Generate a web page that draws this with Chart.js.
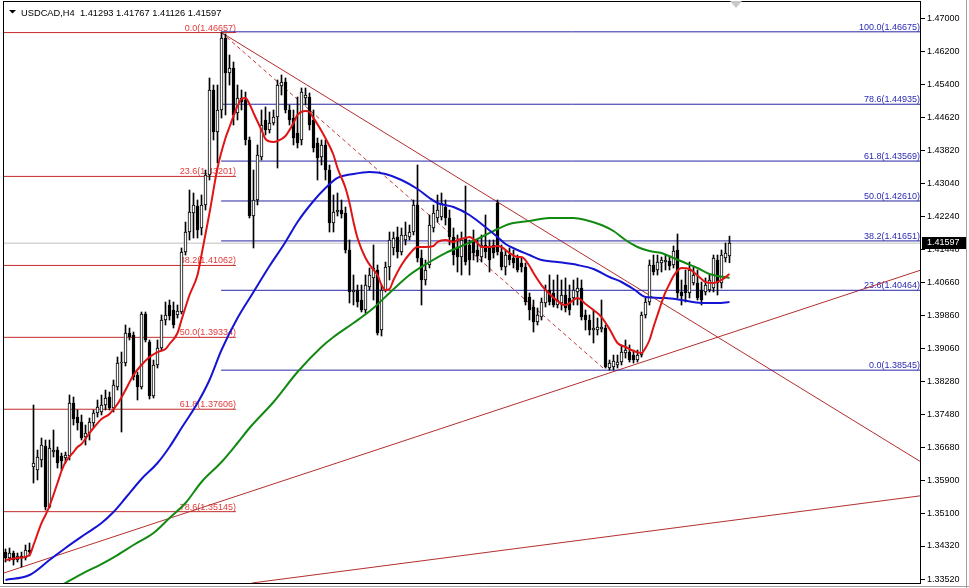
<!DOCTYPE html>
<html>
<head>
<meta charset="utf-8">
<script src="https://cdn.jsdelivr.net/npm/chart.js@4.4.1/dist/chart.umd.min.js"></script>
<style>
html, body { margin: 0; padding: 0; background: #fff; }
canvas { display: block; }
</style>
</head>
<body>
<canvas id="chart" width="969" height="588"></canvas>
<script>
const symbolName = 'USDCAD,H4';
const lastBarText = ['1.41293', '1.41767', '1.41126', '1.41597'];
const bidPrice = 1.41597;

const priceTicks = [1.47, 1.462, 1.454, 1.4462, 1.4382, 1.4304, 1.4224, 1.4144, 1.4066, 1.3986,
  1.3906, 1.3828, 1.3748, 1.3668, 1.359, 1.351, 1.3432, 1.3352];

// H4 bars, index 0 = oldest visible bar
const opens = [
  1.34175, 1.34031, 1.34151, 1.33983, 1.34079, 1.34031, 1.34223, 1.36218, 1.36146, 1.36386,
  1.36723, 1.35257, 1.36578, 1.36626, 1.36482, 1.36434, 1.36482, 1.37756, 1.37419, 1.37299,
  1.36939, 1.37035, 1.37275, 1.37516, 1.37540, 1.37708, 1.37900, 1.37636, 1.38140, 1.38717,
  1.38717, 1.39438, 1.39390, 1.38429, 1.38140, 1.39895, 1.39222, 1.37924, 1.38669, 1.39078,
  1.39750, 1.40111, 1.39991, 1.39871, 1.39943, 1.41384, 1.41865, 1.42322, 1.42490, 1.41961,
  1.42514, 1.43235, 1.45277, 1.44268, 1.44797, 1.46527, 1.45686, 1.45806, 1.44725, 1.45085,
  1.45037, 1.44076, 1.42250, 1.42634, 1.43667, 1.44556, 1.44316, 1.44484, 1.44628, 1.45373,
  1.45470, 1.44797, 1.44604, 1.44244, 1.44076, 1.45085, 1.45109, 1.44556, 1.44004, 1.43667,
  1.43956, 1.43355, 1.42081, 1.42346, 1.42394, 1.42322, 1.41432, 1.40423, 1.40471, 1.40231,
  1.39991, 1.40543, 1.40760, 1.40952, 1.39510, 1.40471, 1.41024, 1.41481, 1.41745, 1.41384,
  1.41673, 1.41745, 1.41865, 1.42514, 1.41240, 1.40712, 1.41072, 1.41961, 1.42201, 1.42225,
  1.42466, 1.42201, 1.41745, 1.41481, 1.41264, 1.41721, 1.41553, 1.41673, 1.41432, 1.41264,
  1.41553, 1.41505, 1.41553, 1.42562, 1.41384, 1.41024, 1.41312, 1.41240, 1.41240, 1.41120,
  1.41024, 1.40303, 1.40063, 1.39702, 1.39822, 1.40159, 1.40471, 1.40399, 1.40111, 1.40159,
  1.40351, 1.40279, 1.40279, 1.40423, 1.40519, 1.39871, 1.39750, 1.39510, 1.39510, 1.39534,
  1.39558, 1.38597, 1.38621, 1.38669, 1.38741, 1.38957, 1.38981, 1.38909, 1.38789, 1.38909,
  1.39871, 1.40183, 1.41072, 1.40952, 1.41120, 1.41144, 1.41168, 1.41072, 1.41432, 1.40423,
  1.40591, 1.40399, 1.40640, 1.40640, 1.40471, 1.40423, 1.40471, 1.40519, 1.41192, 1.40640,
  1.41240, 1.41293
];
const highs = [
  1.34248, 1.34272, 1.34199, 1.34151, 1.34175, 1.34344, 1.34392, 1.37708, 1.36626, 1.36915,
  1.36867, 1.36867, 1.37107, 1.36699, 1.36554, 1.36578, 1.37948, 1.37900, 1.37588, 1.37468,
  1.37227, 1.37395, 1.37588, 1.37828, 1.37948, 1.38068, 1.38020, 1.38309, 1.38861, 1.38981,
  1.39630, 1.39558, 1.39462, 1.38501, 1.39943, 1.39943, 1.39270, 1.38789, 1.39270, 1.39871,
  1.40183, 1.40231, 1.40183, 1.40111, 1.41481, 1.42105, 1.42874, 1.42802, 1.42634, 1.42754,
  1.43355, 1.45566, 1.45397, 1.45397, 1.46657, 1.46623, 1.46118, 1.45950, 1.45397, 1.45277,
  1.45229, 1.44148, 1.43355, 1.43956, 1.44797, 1.44869, 1.44749, 1.44797, 1.45518, 1.45638,
  1.45566, 1.44917, 1.44797, 1.45109, 1.45325, 1.45325, 1.45205, 1.44797, 1.44124, 1.44076,
  1.44076, 1.43475, 1.42754, 1.42802, 1.42634, 1.42466, 1.41673, 1.40832, 1.40591, 1.40591,
  1.40832, 1.41000, 1.41553, 1.41072, 1.40591, 1.41144, 1.41865, 1.41865, 1.41985, 1.41961,
  1.42105, 1.42033, 1.42634, 1.43475, 1.41432, 1.41192, 1.42274, 1.42514, 1.42754, 1.42802,
  1.42634, 1.42394, 1.41961, 1.41793, 1.41865, 1.42970, 1.41673, 1.41913, 1.41673, 1.41793,
  1.42274, 1.41673, 1.41673, 1.42634, 1.41553, 1.41432, 1.41481, 1.41432, 1.41312, 1.41240,
  1.41120, 1.40399, 1.40231, 1.40039, 1.40279, 1.40591, 1.40832, 1.40712, 1.40832, 1.40712,
  1.40760, 1.40591, 1.40712, 1.40760, 1.40712, 1.39991, 1.39871, 1.39991, 1.39798, 1.40231,
  1.39630, 1.38789, 1.38909, 1.38909, 1.39150, 1.39270, 1.39150, 1.39029, 1.39029, 1.39943,
  1.40279, 1.41192, 1.41312, 1.41312, 1.41264, 1.41312, 1.41288, 1.41529, 1.41817, 1.40712,
  1.40952, 1.41144, 1.41048, 1.40952, 1.40664, 1.40760, 1.40832, 1.41312, 1.41312, 1.41432,
  1.41601, 1.41767
];
const lows = [
  1.33935, 1.33959, 1.33863, 1.33935, 1.33815, 1.33983, 1.34079, 1.35834, 1.35906, 1.36218,
  1.35185, 1.35233, 1.36458, 1.36194, 1.36146, 1.36314, 1.36386, 1.37227, 1.37107, 1.36867,
  1.36747, 1.36867, 1.37179, 1.37419, 1.37468, 1.37588, 1.37588, 1.37540, 1.38068, 1.37059,
  1.38645, 1.39270, 1.38309, 1.37828, 1.38092, 1.39222, 1.37852, 1.37876, 1.38597, 1.39029,
  1.39630, 1.39750, 1.39558, 1.39798, 1.39895, 1.41312, 1.41673, 1.41721, 1.41721, 1.41793,
  1.42394, 1.43115, 1.44076, 1.43523, 1.44604, 1.44677, 1.45397, 1.44436, 1.44556, 1.44797,
  1.43956, 1.42201, 1.41481, 1.42514, 1.43595, 1.44196, 1.44244, 1.44436, 1.43403, 1.45157,
  1.44725, 1.44436, 1.43956, 1.43884, 1.43956, 1.44917, 1.44316, 1.43787, 1.43115, 1.43475,
  1.43115, 1.41865, 1.41865, 1.42250, 1.42201, 1.41360, 1.40159, 1.40111, 1.40063, 1.39943,
  1.39919, 1.40471, 1.40231, 1.39390, 1.39366, 1.40423, 1.40712, 1.41312, 1.41240, 1.41312,
  1.41553, 1.41673, 1.41793, 1.41144, 1.40111, 1.40591, 1.41000, 1.41865, 1.42105, 1.42153,
  1.42033, 1.41553, 1.41072, 1.40904, 1.40832, 1.41072, 1.40832, 1.41192, 1.41144, 1.41144,
  1.41240, 1.40904, 1.41240, 1.41312, 1.40952, 1.40832, 1.41072, 1.41000, 1.40904, 1.40904,
  1.40111, 1.39750, 1.39462, 1.39630, 1.39750, 1.40063, 1.40111, 1.40063, 1.40039, 1.39991,
  1.39943, 1.39871, 1.40111, 1.40111, 1.39750, 1.39510, 1.39390, 1.39198, 1.39390, 1.39462,
  1.38597, 1.38545, 1.38549, 1.38597, 1.38669, 1.38837, 1.38741, 1.38717, 1.38741, 1.38861,
  1.39798, 1.40111, 1.40832, 1.40832, 1.40904, 1.40952, 1.40952, 1.41000, 1.40279, 1.40111,
  1.40183, 1.40279, 1.40591, 1.40231, 1.40111, 1.40351, 1.40423, 1.40423, 1.40351, 1.40519,
  1.41144, 1.41126
];
const closes = [
  1.34031, 1.34151, 1.33983, 1.34079, 1.34031, 1.34223, 1.34175, 1.36314, 1.36458, 1.36747,
  1.35257, 1.36675, 1.36626, 1.36314, 1.36362, 1.36506, 1.37756, 1.37371, 1.37275, 1.36915,
  1.37035, 1.37299, 1.37516, 1.37660, 1.37708, 1.37876, 1.37636, 1.38188, 1.38717, 1.38741,
  1.39438, 1.39342, 1.38381, 1.38140, 1.39895, 1.39270, 1.37924, 1.38669, 1.39078, 1.39750,
  1.39871, 1.39847, 1.39630, 1.39967, 1.41384, 1.41865, 1.42346, 1.42514, 1.41913, 1.42514,
  1.43235, 1.45277, 1.44268, 1.44797, 1.46527, 1.45686, 1.45806, 1.44677, 1.45085, 1.44989,
  1.44076, 1.42250, 1.42634, 1.43715, 1.44436, 1.44316, 1.44484, 1.44628, 1.45397, 1.45470,
  1.44797, 1.44556, 1.44124, 1.44004, 1.45229, 1.45157, 1.44436, 1.43884, 1.43643, 1.43956,
  1.43355, 1.42081, 1.42346, 1.42394, 1.42298, 1.41432, 1.40423, 1.40471, 1.40183, 1.39991,
  1.40591, 1.40832, 1.41000, 1.39438, 1.40471, 1.41024, 1.41673, 1.41721, 1.41384, 1.41793,
  1.41793, 1.41865, 1.42514, 1.41240, 1.40712, 1.40952, 1.42033, 1.42322, 1.42394, 1.42562,
  1.42201, 1.41745, 1.41312, 1.41264, 1.41673, 1.41144, 1.41192, 1.41360, 1.41288, 1.41553,
  1.41384, 1.41192, 1.41360, 1.41384, 1.41024, 1.41312, 1.41192, 1.41120, 1.40952, 1.41024,
  1.40183, 1.39991, 1.39702, 1.39871, 1.40183, 1.40471, 1.40183, 1.40111, 1.40231, 1.40351,
  1.40039, 1.39991, 1.40471, 1.40519, 1.39822, 1.39750, 1.39510, 1.39558, 1.39582, 1.39582,
  1.38621, 1.38717, 1.38765, 1.38741, 1.38981, 1.39029, 1.38789, 1.38789, 1.38909, 1.39871,
  1.40183, 1.41072, 1.40904, 1.41144, 1.41192, 1.41192, 1.41048, 1.41408, 1.40399, 1.40327,
  1.40399, 1.40952, 1.40832, 1.40279, 1.40231, 1.40591, 1.40712, 1.41240, 1.40640, 1.41312,
  1.41360, 1.41597
];

// moving averages: [bar index, price]
const maFast = [[0,1.33983],[3,1.34031],[6,1.34103],[7,1.34344],[9,1.34872],[10,1.35065],[11,1.35281],
  [13,1.35834],[14,1.36122],[15,1.36338],[17,1.36578],[18,1.36699],[19,1.36771],[21,1.37035],[22,1.37155],
  [24,1.37371],[26,1.37492],[28,1.37732],[30,1.38068],[32,1.38429],[34,1.38669],[36,1.38861],[38,1.38981],
  [40,1.39054],[41,1.39174],[43,1.39438],[44,1.39750],[46,1.40351],[48,1.40832],[49,1.41312],[51,1.42322],
  [53,1.43403],[55,1.44124],[56,1.44388],[58,1.44893],[59,1.45061],[60,1.45085],[61,1.44941],[62,1.44725],
  [64,1.44316],[65,1.44100],[67,1.44028],[68,1.44052],[70,1.44172],[72,1.44484],[73,1.44677],[75,1.44773],
  [76,1.44749],[77,1.44604],[79,1.44292],[81,1.43932],[82,1.43715],[83,1.43403],[85,1.42922],[86,1.42562],
  [87,1.42105],[88,1.41721],[90,1.41240],[92,1.40952],[93,1.40832],[94,1.40591],[95,1.40471],[96,1.40495],
  [97,1.40712],[99,1.41072],[101,1.41336],[103,1.41505],[105,1.41505],[107,1.41529],[108,1.41625],
  [110,1.41673],[112,1.41625],[113,1.41673],[115,1.41721],[116,1.41745],[118,1.41601],[119,1.41505],
  [121,1.41505],[123,1.41529],[124,1.41505],[126,1.41360],[128,1.41264],[129,1.41264],[131,1.41048],
  [132,1.40880],[134,1.40591],[136,1.40375],[138,1.40207],[139,1.40135],[140,1.40111],[142,1.40231],
  [143,1.40279],[145,1.40135],[147,1.39991],[149,1.39822],[151,1.39534],[153,1.39198],[155,1.39102],
  [157,1.39005],[159,1.38957],[160,1.39078],[161,1.39270],[162,1.39582],[163,1.39871],[164,1.40159],
  [165,1.40423],[166,1.40615],[167,1.40808],[169,1.41000],[171,1.40976],[172,1.40904],[174,1.40736],
  [175,1.40664],[177,1.40640],[179,1.40712],[181,1.40856]];
const maMid = [[0,1.33503],[6,1.33623],[11,1.33983],[15,1.34272],[20,1.34608],[24,1.34872],[27,1.35137],
  [30,1.35473],[34,1.35930],[38,1.36314],[41,1.36699],[44,1.37155],[48,1.37756],[51,1.38309],[54,1.39029],
  [58,1.39798],[62,1.40423],[66,1.41048],[70,1.41625],[73,1.42105],[77,1.42610],[80,1.42922],[83,1.43163],
  [87,1.43259],[91,1.43307],[95,1.43259],[99,1.43115],[103,1.42898],[106,1.42682],[108,1.42562],
  [112,1.42466],[116,1.42274],[119,1.42057],[123,1.41745],[125,1.41577],[128,1.41432],[131,1.41312],
  [134,1.41192],[138,1.41144],[143,1.41072],[147,1.40976],[151,1.40784],[154,1.40664],[157,1.40495],
  [160,1.40303],[165,1.40279],[169,1.40231],[174,1.40159],[178,1.40159],[181,1.40183]];
const maSlow = [[14,1.33382],[19,1.33647],[24,1.33887],[28,1.34103],[32,1.34344],[37,1.34632],[41,1.34992],
  [45,1.35353],[49,1.35858],[54,1.36338],[58,1.36795],[61,1.37155],[67,1.37780],[73,1.38501],[79,1.39102],
  [82,1.39342],[87,1.39678],[92,1.40039],[96,1.40399],[101,1.40832],[106,1.41144],[110,1.41360],
  [114,1.41529],[118,1.41697],[122,1.41889],[126,1.42057],[131,1.42129],[136,1.42201],[142,1.42201],
  [145,1.42153],[149,1.42033],[152,1.41889],[155,1.41673],[158,1.41505],[161,1.41408],[164,1.41360],
  [167,1.41240],[170,1.41120],[173,1.41000],[176,1.40856],[178,1.40808],[181,1.40760]];

// Fibonacci retracements
const redFibLevels = ['0.0', '23.6', '38.2', '50.0', '61.8', '78.6'];
const redFibPrices = [1.46657, 1.43201, 1.41062, 1.39334, 1.37606, 1.35145];
const redFibSpan = [-5, 57.6];
const blueFibLevels = ['100.0', '78.6', '61.8', '50.0', '38.2', '23.6', '0.0'];
const blueFibPrices = [1.46675, 1.44935, 1.43569, 1.42610, 1.41651, 1.40464, 1.38545];
const blueFibSpan = [53.9, 240];

// trend lines: [[bar, price], [bar, price]]
const trendLines = [
  [[54, 1.46657], [228.9, 1.36338]],
  [[-0.4, 1.33671], [228.9, 1.40952]],
  [[61.6, 1.33431], [228.9, 1.35528]]
];
const fibDiagonal = [[54, 1.46657], [150, 1.38545]];

const FONT = '"Liberation Sans", Arial, sans-serif';

const idx = opens.map((_, i) => i);
const toXY = pts => pts.map(([x, y]) => ({ x, y }));
const hline = (span, p) => [{ x: span[0], y: p }, { x: span[1], y: p }];

const objectSets = [];
redFibPrices.forEach(p => objectSets.push({ type: 'line', data: hline(redFibSpan, p), borderColor: '#c42a2a', borderWidth: 1, pointRadius: 0, clip: 0, order: 5 }));
blueFibPrices.forEach(p => objectSets.push({ type: 'line', data: hline(blueFibSpan, p), borderColor: '#2626a6', borderWidth: 1, pointRadius: 0, clip: 0, order: 5 }));
trendLines.forEach(l => objectSets.push({ type: 'line', data: toXY(l), borderColor: '#b52e2e', borderWidth: 1, pointRadius: 0, clip: 0, order: 5 }));
objectSets.push({ type: 'line', data: toXY(fibDiagonal), borderColor: '#c43a3a', borderWidth: 1, borderDash: [4, 3], pointRadius: 0, clip: 0, order: 5 });
objectSets.push({ type: 'line', data: hline([-5, 240], bidPrice), borderColor: '#c0c0c0', borderWidth: 1, pointRadius: 0, clip: 0, order: 6 });

const maLine = (pts, color) => ({
  type: 'line', data: toXY(pts), borderColor: color, borderWidth: 2, pointRadius: 0,
  cubicInterpolationMode: 'monotone', clip: 0, order: 0
});

const mt4Decor = {
  id: 'mt4Decor',
  beforeDraw(chart) {
    const { ctx, width, height } = chart;
    ctx.save();
    ctx.fillStyle = '#ffffff';
    ctx.fillRect(0, 0, width, height);
    ctx.restore();
  },
  beforeDatasetsDraw(chart) {
    const { ctx, chartArea: a, scales: { x, y } } = chart;
    ctx.save();
    ctx.beginPath();
    ctx.rect(a.left, a.top, a.right - a.left, a.bottom - a.top);
    ctx.clip();
    ctx.font = '9px ' + FONT;
    ctx.textAlign = 'right';
    ctx.textBaseline = 'alphabetic';
    ctx.fillStyle = '#e03a3a';
    const rx = x.getPixelForValue(redFibSpan[1]);
    redFibPrices.forEach((p, i) => ctx.fillText(redFibLevels[i] + '(' + p.toFixed(5) + ')', rx, y.getPixelForValue(p) - 2));
    ctx.fillStyle = '#2a2ab4';
    blueFibPrices.forEach((p, i) => ctx.fillText(blueFibLevels[i] + '(' + p.toFixed(5) + ')', a.right - 1, y.getPixelForValue(p) - 2));
    ctx.restore();
  },
  afterDraw(chart) {
    const { ctx, chartArea: a, scales: { y } } = chart;
    ctx.save();
    // frame
    ctx.strokeStyle = '#000';
    ctx.lineWidth = 1;
    ctx.strokeRect(a.left - 0.5, a.top - 0.5, a.right - a.left, a.bottom - a.top + 1);
    // window edges
    ctx.strokeStyle = '#a0a0a0';
    ctx.beginPath();
    ctx.moveTo(0, 586.5); ctx.lineTo(969, 586.5);
    ctx.moveTo(966.5, 0); ctx.lineTo(966.5, 588);
    ctx.stroke();
    // bid price tag
    const by = Math.round(y.getPixelForValue(bidPrice));
    ctx.fillStyle = '#000';
    ctx.fillRect(a.right + 1, by - 6, 44, 12);
    ctx.fillStyle = '#fff';
    ctx.font = '9px ' + FONT;
    ctx.textAlign = 'left';
    ctx.textBaseline = 'middle';
    ctx.fillText(bidPrice.toFixed(5), a.right + 6, by);
    // header
    ctx.fillStyle = '#000';
    ctx.beginPath();
    ctx.moveTo(9, 10); ctx.lineTo(16, 10); ctx.lineTo(12.5, 13.5); ctx.closePath();
    ctx.fill();
    ctx.font = '9.3px ' + FONT;
    ctx.textBaseline = 'alphabetic';
    ctx.fillText(symbolName + '  ' + lastBarText.join(' '), 21, 15.5);
    // chart shift marker
    ctx.fillStyle = '#c8c8c8';
    ctx.beginPath();
    ctx.moveTo(730, 1); ctx.lineTo(742, 1); ctx.lineTo(736, 8); ctx.closePath();
    ctx.fill();
    ctx.restore();
  }
};

new Chart(document.getElementById('chart'), {
  type: 'bar',
  data: {
    datasets: [
      maLine(maFast, '#e01414'),
      maLine(maMid, '#1414d2'),
      maLine(maSlow, '#128a12'),
      {
        type: 'bar', data: idx.map(i => ({ x: i, y: [opens[i], closes[i]] })),
        backgroundColor: idx.map(i => closes[i] >= opens[i] ? '#ffffff' : '#000000'),
        borderColor: '#000', borderWidth: 1, borderSkipped: false, barThickness: 3,
        minBarLength: 1, grouped: false, order: 1
      },
      {
        type: 'bar', data: idx.map(i => ({ x: i, y: [lows[i], highs[i]] })),
        backgroundColor: '#000', borderWidth: 0, barThickness: 1, grouped: false, order: 2
      },
      ...objectSets
    ]
  },
  options: {
    responsive: false,
    animation: false,
    events: [],
    layout: { padding: { left: 4, top: 2, right: 0, bottom: 5 } },
    plugins: { legend: { display: false }, tooltip: { enabled: false } },
    scales: {
      x: { type: 'linear', display: false, min: -0.375, max: 228.875, offset: false },
      y: {
        type: 'linear', position: 'right', min: 1.33431, max: 1.473917,
        afterBuildTicks: s => { s.ticks = priceTicks.map(v => ({ value: v })); },
        afterFit: s => { s.width = 48; s.paddingTop = 0; s.paddingBottom = 0; },
        grid: { drawOnChartArea: false, tickLength: 4, color: '#000', tickColor: '#000' },
        border: { display: false },
        ticks: { autoSkip: false, padding: 2, color: '#000', font: { family: FONT, size: 9 }, callback: v => v.toFixed(5) }
      }
    }
  },
  plugins: [mt4Decor]
});
</script>
</body>
</html>
